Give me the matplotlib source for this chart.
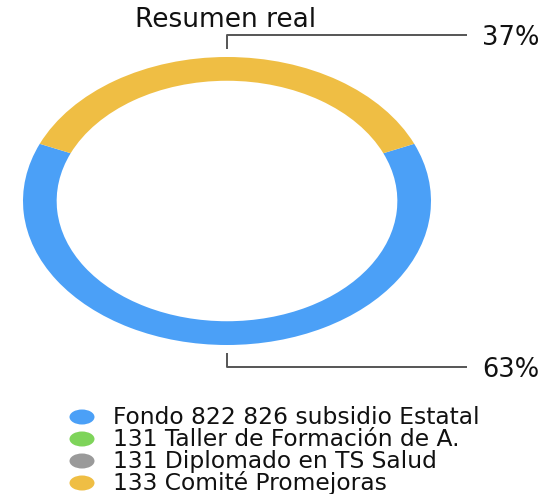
import numpy as np
import matplotlib.pyplot as plt
from matplotlib.patches import Ellipse

# data
labels = ['Fondo 822 826 subsidio Estatal', '131 Taller de Formación de A.',
          '131 Diplomado en TS Salud', '133 Comité Promejoras']
shares = [63, 0, 0, 37]
colors = ['#4BA0F7', '#7ED45A', '#9A9A9A', '#EFBE44']
title = 'Resumen real'

W, H = 560, 494
plt.rcParams['font.family'] = ['DejaVu Sans']

fig = plt.figure(figsize=(W / 100, H / 100), dpi=100)
ax = fig.add_axes([23 / W, (H - 345) / H, 408 / W, 288 / H])

# last slice (yellow) sits centred on the top of the ring
start = 90 - shares[-1] / sum(shares) * 180
wedges, _ = ax.pie(shares, colors=colors, startangle=start, counterclock=False,
                   wedgeprops=dict(width=0.165, linewidth=0))
ax.set_aspect('auto')
ax.set_xlim(-1, 1)
ax.set_ylim(-1, 1)
ax.axis('off')

# leader lines + percentages at the middle of each non-empty slice
for w, v in zip(wedges, shares):
    if v == 0:
        continue
    mid = np.deg2rad((w.theta1 + w.theta2) / 2)
    up = 1 if np.sin(mid) > 0 else -1
    y1 = up * 1.055
    y2 = up * 1.155
    ax.plot([0, 0, 1.176], [y1, y2, y2], color='#555555', lw=1.4,
            clip_on=False, solid_capstyle='butt')
    ax.text(1.25, y2, '%d%%' % round(v / sum(shares) * 100), fontsize=18.5,
            ha='left', va='center_baseline', color='#111111')

fig.text(226 / W, 1 - 27 / H, title, fontsize=19, ha='center', va='baseline',
         color='#111111')

# legend drawn by hand (squashed circle markers like the reference)
for i, (lab, c) in enumerate(zip(labels, colors)):
    yc = 417 + i * 22
    fig.add_artist(Ellipse((82 / W, 1 - yc / H), 25 / W, 15 / H,
                           transform=fig.transFigure, color=c, lw=0))
    fig.text(113 / W, 1 - (yc + 6.5) / H, lab, fontsize=16.8, ha='left',
             va='baseline', color='#111111')

fig.savefig('out.png', dpi=100)
